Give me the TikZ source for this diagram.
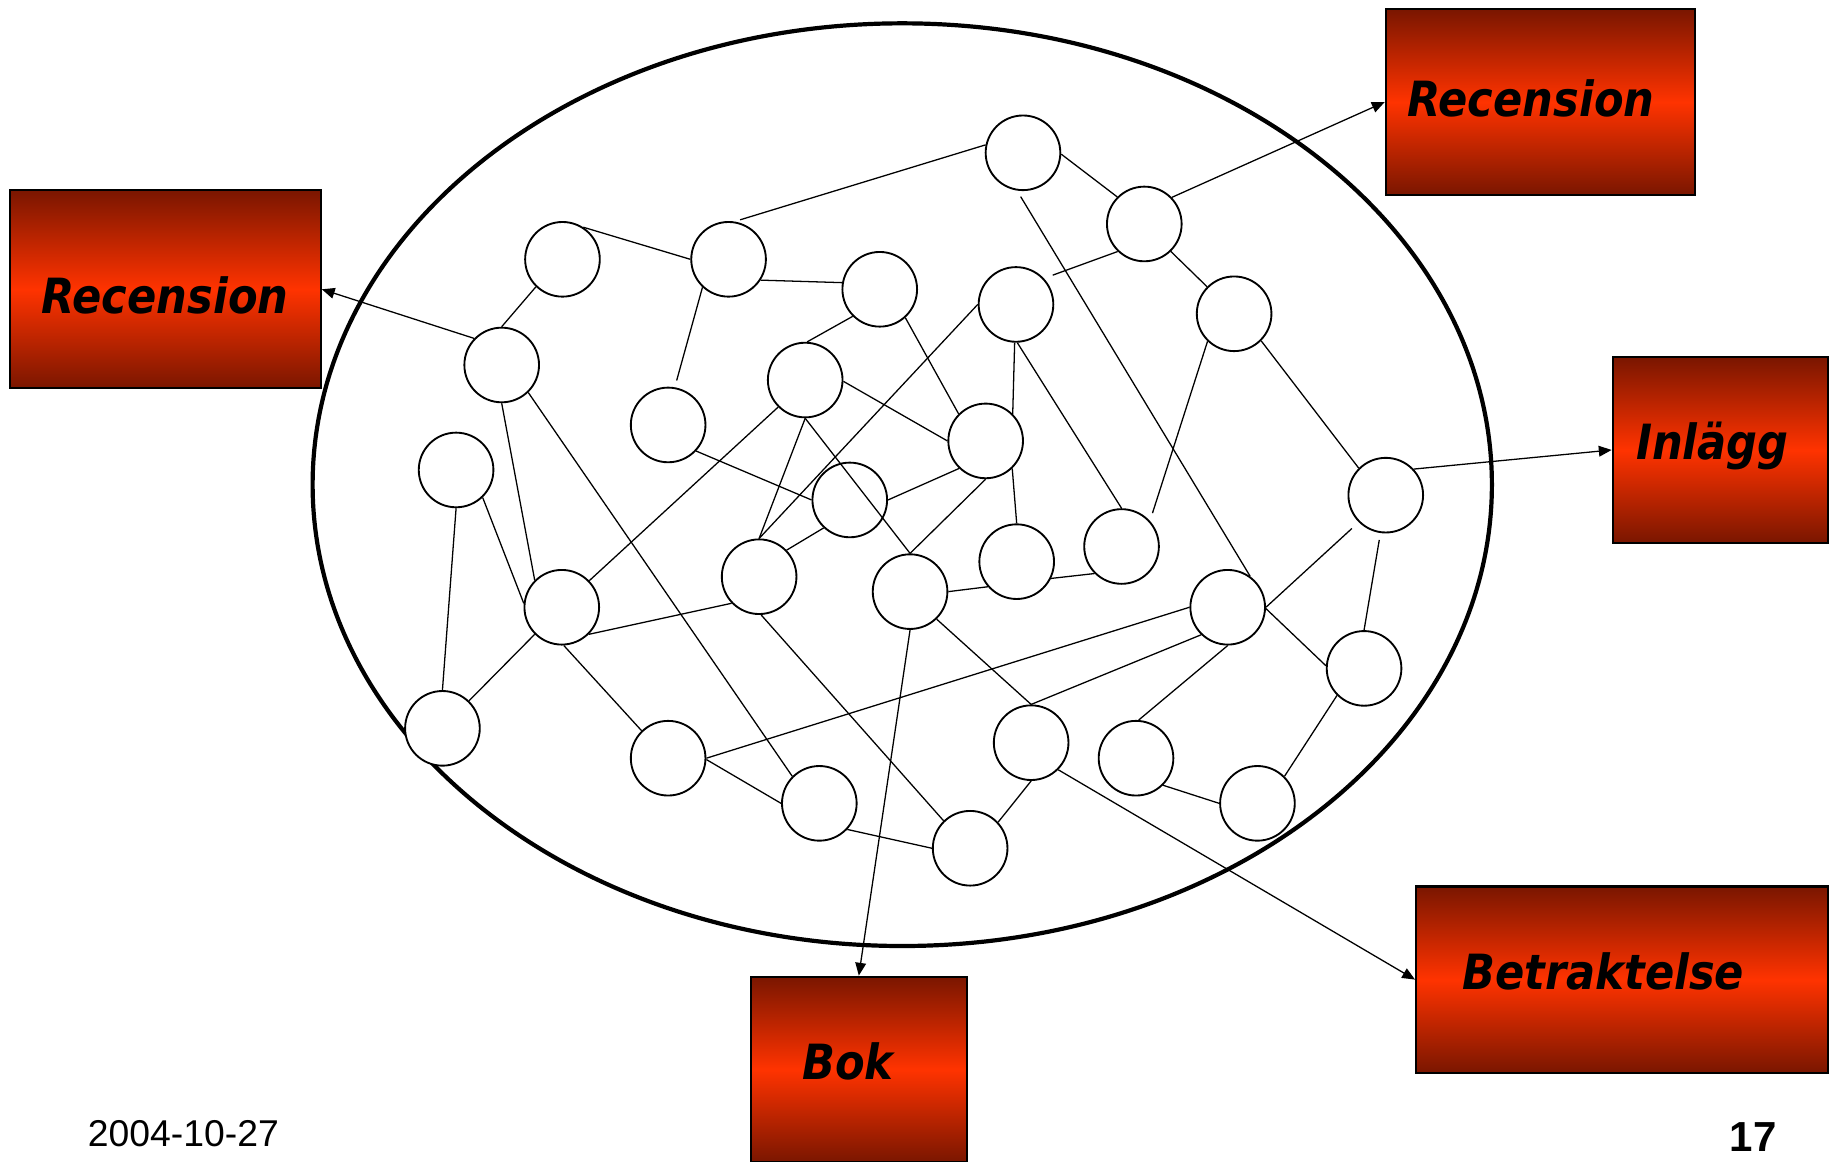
\documentclass[tikz,border=0pt]{standalone}
\usepackage{fontspec}
\usetikzlibrary{arrows.meta}
\newfontfamily\boxfont{DejaVu Sans}[FakeStretch=0.89]
\newfontfamily\arialfont{Liberation Sans}
\definecolor{dkred}{RGB}{122,22,0}
\definecolor{brred}{RGB}{255,51,0}
\begin{document}
\begin{tikzpicture}[x=0.5pt,y=-0.5pt,
  nd/.style={circle,draw,line width=0.8pt,fill=white,minimum size=32pt,inner sep=0pt},
  edge/.style={line width=0.55pt},
  arr/.style={line width=0.55pt,-{Triangle[length=5.5pt,width=4.6pt]}},
  box/.style={rectangle,draw,line width=0.9pt,top color=dkred,bottom color=dkred,middle color=brred,inner sep=0pt},
  lbl/.style={font=\boxfont\fontsize{20.8pt}{24pt}\selectfont\bfseries\itshape,anchor=base,inner sep=0pt}]
\useasboundingbox (0,0) rectangle (1568,996);
% big ellipse
\draw[line width=1.8pt] (773.5,415.5) ellipse [x radius=252.75pt, y radius=197.75pt];
% boxes
\node[box,minimum width=133.2pt,minimum height=85pt] (recL) at (141.8,248) {};
\node[box,minimum width=132.5pt,minimum height=79.5pt] (recR) at (1320.5,87.5) {};
\node[box,minimum width=92.2pt,minimum height=79.5pt] (inl) at (1474.75,385.75) {};
\node[box,minimum width=176.5pt,minimum height=79.8pt] (betr) at (1390.5,839.8) {};
\node[box,minimum width=92.5pt,minimum height=79.5pt] (bok) at (736.25,916.8) {};
% circles
\node[nd] (A) at (482.2,222.3) {};
\node[nd] (B) at (624.6,222.3) {};
\node[nd] (C) at (754.2,248) {};
\node[nd] (D) at (877,131) {};
\node[nd] (E) at (981,192) {};
\node[nd] (F) at (871,261) {};
\node[nd] (G) at (1058,269) {};
\node[nd] (H) at (430.1,312.9) {};
\node[nd] (I) at (572.8,364.3) {};
\node[nd] (J) at (690.3,325.8) {};
\node[nd] (K) at (845,378) {};
\node[nd] (L) at (391,402.9) {};
\node[nd] (M) at (728.5,428.6) {};
\node[nd] (N) at (961.5,468.5) {};
\node[nd] (O) at (871.6,481.5) {};
\node[nd] (P) at (650.8,494.4) {};
\node[nd] (Q) at (780.2,507.2) {};
\node[nd] (R) at (1188,424.5) {};
\node[nd] (S) at (481.6,520.6) {};
\node[nd] (T) at (1052.5,520.6) {};
\node[nd] (U) at (1169.4,573) {};
\node[nd] (V) at (379.3,624.4) {};
\node[nd] (W) at (572.8,650) {};
\node[nd] (X) at (884,636.7) {};
\node[nd] (Y) at (973.9,650) {};
\node[nd] (Z) at (702.4,688.7) {};
\node[nd] (AA) at (1078,688.7) {};
\node[nd] (BB) at (831.7,727.2) {};
% edges
\draw[edge] (A.57) -- (B.180);
\draw[edge] (A.226) -- (H.90);
\draw[edge,shorten <=2.5pt] (B.81) -- (D.168);
\draw[edge] (B.-33) -- (C.170);
\draw[edge,shorten >=3pt] (B.-133) -- (I.80);
\draw[edge] (D.-2) -- (E.135);
\draw[edge,shorten <=3pt] (D.-99) -- (T.54);
\draw[edge,shorten >=4pt] (E.-134) -- (F.43);
\draw[edge] (E.-46) -- (G.135);
\draw[edge] (G.-45) -- (R.135);
\draw[edge,shorten >=3.5pt] (G.-134) -- (N.42);
\draw[edge] (F.-92) -- (K.45);
\draw[edge] (F.180) -- (P.90);
\draw[edge] (F.-88) -- (N.90);
\draw[edge] (C.-135) -- (J.87);
\draw[edge] (C.-48) -- (K.135);
\draw[edge] (H.-90) -- (S.135);
\draw[edge] (H.-46) -- (Z.135);
\draw[edge] (I.-43) -- (M.180);
\draw[edge] (J.-2) -- (K.180);
\draw[edge] (J.-135) -- (S.44);
\draw[edge] (J.-90) -- (P.90);
\draw[edge] (J.-90) -- (Q.90);
\draw[edge] (K.-134) -- (M.0);
\draw[edge] (K.-90) -- (Q.90);
\draw[edge] (K.-46) -- (O.90);
\draw[edge] (M.-133) -- (P.44);
\draw[edge] (L.-46) -- (S.174);
\draw[edge] (L.-90) -- (V.90);
\draw[edge] (N.-135) -- (O.-26);
\draw[edge] (O.-139) -- (Q.0);
\draw[edge] (P.-136) -- (S.-45);
\draw[edge] (P.-87) -- (BB.134);
\draw[edge] (Q.-46) -- (X.90);
\draw[edge] (S.-135) -- (V.46);
\draw[edge] (S.-87) -- (W.134);
\draw[edge,shorten <=4pt] (R.-135) -- (T.0);
\draw[edge,shorten <=3pt] (R.-98) -- (U.90);
\draw[edge] (T.180) -- (W.0);
\draw[edge] (T.-134) -- (X.90);
\draw[edge] (T.-90) -- (Y.86);
\draw[edge] (T.-2) -- (U.176);
\draw[edge] (U.-135) -- (AA.45);
\draw[edge] (Y.-45) -- (AA.180);
\draw[edge] (X.-90) -- (BB.43);
\draw[edge] (W.-2) -- (Z.180);
\draw[edge] (Z.-43) -- (BB.180);
% arrows to boxes
\draw[arr] (H.136) -- (recL.east);
\draw[arr] (E.44) -- (recR.west);
\draw[arr] (R.43) -- (inl.west);
\draw[arr] (X.-45) -- (betr.west);
\draw[arr] (Q.-90) -- (bok.north);
% labels
\node[lbl] (tRecL) at (141.5,268.6) {Recension};
\node[lbl] (tRecR) at (1312.5,99.5) {Recension};
\node[lbl] (tInl) at (1468,393.8) {Inlägg};
\node[lbl] (tBetr) at (1374.5,848) {Betraktelse};
\node[lbl] (tBok) at (727,925.3) {Bok};
\node[anchor=base west,inner sep=0pt,font=\arialfont\fontsize{16pt}{19pt}\selectfont] (date) at (75,982.5) {2004-10-27};
\node[anchor=base east,inner sep=0pt,font=\arialfont\bfseries\fontsize{18pt}{21pt}\selectfont] (page) at (1523.5,987.3) {17};
\end{tikzpicture}
\end{document}
